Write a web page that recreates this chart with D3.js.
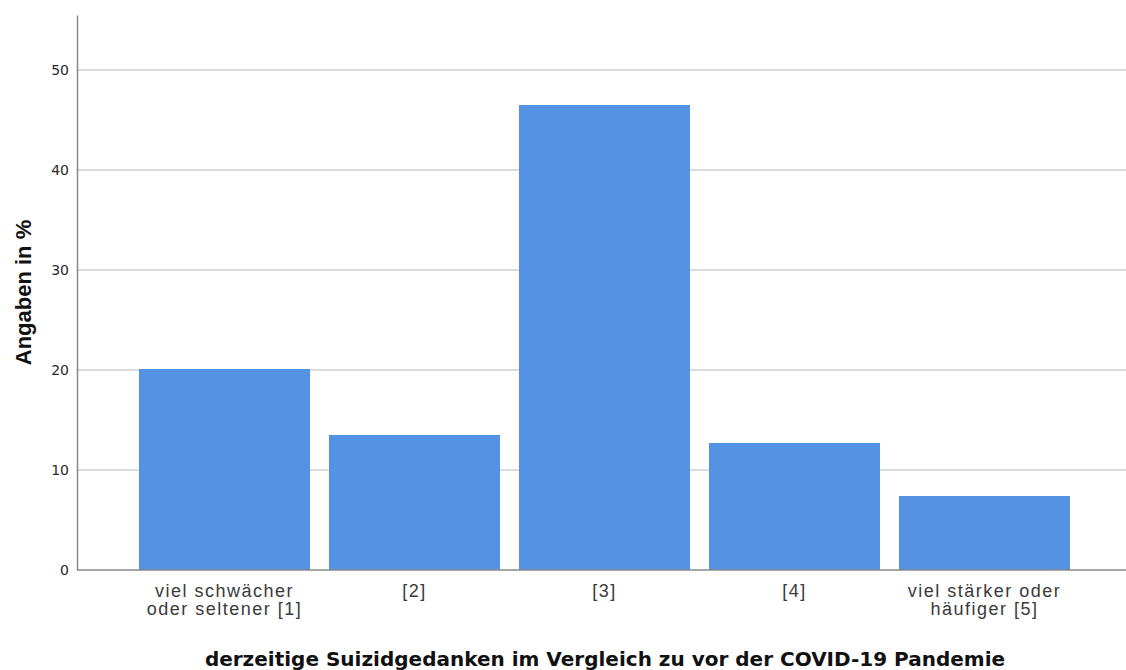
<!DOCTYPE html>
<html>
<head>
    <meta charset="utf-8">
    <title>Suizidgedanken</title>
    <script src="https://d3js.org/d3.v7.min.js"></script>
    <style>
        body { margin: 0; background: #fff; }
        svg { display: block; }
    </style>
</head>
<body>
    <svg width="1126" height="670"></svg>
    <script>
        // data
        const categories = [
            ["viel schwächer", "oder seltener [1]"],
            ["[2]"],
            ["[3]"],
            ["[4]"],
            ["viel stärker oder", "häufiger [5]"]
        ];
        const values = [20.1, 13.5, 46.5, 12.7, 7.4];
        const yTicks = [0, 10, 20, 30, 40, 50];

        const svg = d3.select("svg");
        const plotLeft = 77, plotRight = 1126, plotTop = 15, plotBottom = 570;

        const yScale = d3.scaleLinear()
            .domain([0, 55.5])
            .range([plotBottom, plotTop]);

        const xScale = d3.scaleBand()
            .domain(d3.range(values.length))
            .range([129.5, 1079.5])
            .paddingInner(0.1)
            .paddingOuter(0.05);

        // gridlines
        svg.append("g")
            .selectAll("line")
            .data(yTicks.slice(1))
            .join("line")
            .attr("x1", plotLeft)
            .attr("x2", plotRight)
            .attr("y1", d => yScale(d))
            .attr("y2", d => yScale(d))
            .attr("stroke", "#cfcfcf")
            .attr("stroke-width", 1.5);

        // bars
        svg.append("g")
            .selectAll("rect")
            .data(values)
            .join("rect")
            .attr("x", (d, i) => xScale(i))
            .attr("y", d => yScale(d))
            .attr("width", xScale.bandwidth())
            .attr("height", d => plotBottom - yScale(d))
            .attr("fill", "#5493e3");

        // y axis
        const yAxis = svg.append("g")
            .attr("transform", `translate(${plotLeft},0)`)
            .call(d3.axisLeft(yScale).tickValues(yTicks).tickSize(0).tickPadding(8));
        yAxis.select(".domain").attr("stroke", "#888").attr("stroke-width", 1.5);
        yAxis.selectAll(".tick text")
            .style("font-family", "'DejaVu Sans', sans-serif")
            .style("font-size", "14px")
            .attr("fill", "#2a2a2a");

        // baseline
        svg.append("line")
            .attr("x1", plotLeft).attr("x2", plotRight)
            .attr("y1", plotBottom).attr("y2", plotBottom)
            .attr("stroke", "#888").attr("stroke-width", 1.5);

        // x labels
        const xl = svg.append("g")
            .selectAll("text")
            .data(categories)
            .join("text")
            .attr("x", (d, i) => xScale(i) + xScale.bandwidth() / 2)
            .attr("y", 597)
            .attr("text-anchor", "middle")
            .style("font-family", "'Liberation Sans', Arial, sans-serif")
            .style("font-size", "18px")
            .style("letter-spacing", "1.5px")
            .attr("fill", "#3a3a3a");
        xl.selectAll("tspan")
            .data(d => d)
            .join("tspan")
            .attr("x", function () { return this.parentNode.getAttribute("x"); })
            .attr("dy", (d, i) => i === 0 ? 0 : "1.0em")
            .text(d => d);

        // axis titles
        svg.append("text")
            .attr("transform", `translate(31,${(plotTop + plotBottom) / 2}) rotate(-90)`)
            .attr("text-anchor", "middle")
            .style("font-family", "'Liberation Sans', Arial, sans-serif")
            .style("font-size", "22px")
            .style("font-weight", "bold")
            .attr("fill", "#111")
            .text("Angaben in %");

        svg.append("text")
            .attr("x", 605)
            .attr("y", 666)
            .attr("text-anchor", "middle")
            .style("font-family", "'DejaVu Sans', sans-serif")
            .style("font-size", "20px")
            .style("font-weight", "bold")
            .attr("fill", "#111")
            .text("derzeitige Suizidgedanken im Vergleich zu vor der COVID-19 Pandemie");
    </script>
</body>
</html>
